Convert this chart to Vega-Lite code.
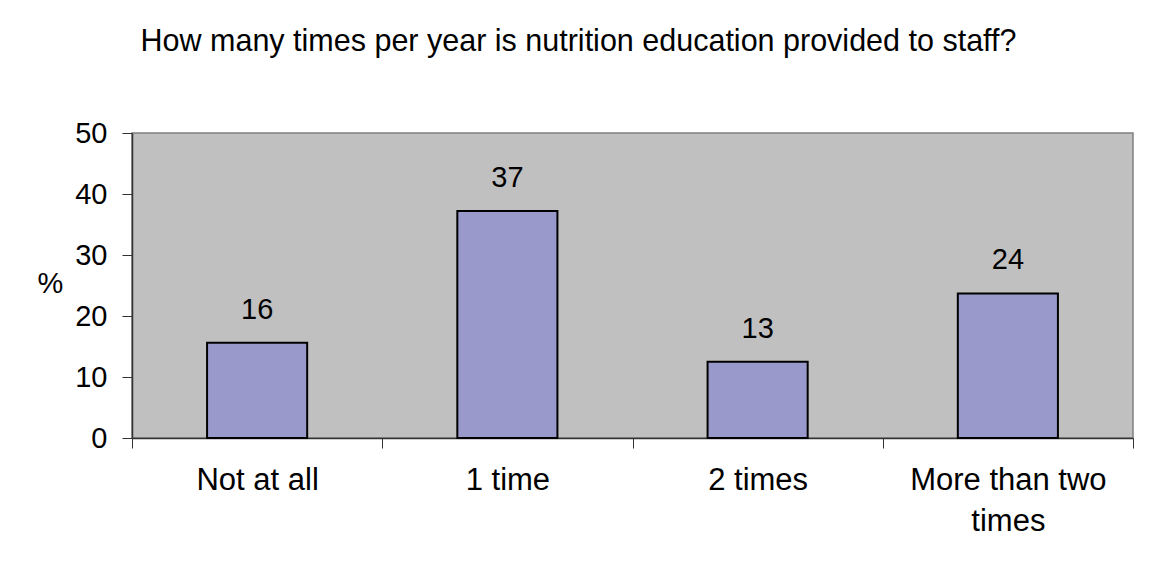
{
  "$schema": "https://vega.github.io/schema/vega-lite/v6.json",
  "autosize": {"type": "none"},
  "width": 1001,
  "height": 305,
  "padding": {"left": 132, "top": 133, "right": 17, "bottom": 135},
  "background": "white",
  "title": {
    "text": "How many times per year is nutrition education provided to staff?",
    "anchor": "middle",
    "frame": "group",
    "dx": -54,
    "offset": 38,
    "baseline": "alphabetic",
    "font": "Liberation Sans",
    "fontSize": 30.5,
    "fontWeight": "normal",
    "color": "black"
  },
  "config": {
    "view": {"fill": "#C0C0C0", "stroke": "#808080", "strokeWidth": 1.5},
    "axis": {
      "labelFont": "Liberation Sans",
      "titleFont": "Liberation Sans",
      "labelColor": "black",
      "titleColor": "black",
      "grid": false
    }
  },
  "data": {
    "values": [
      {"category": "Not at all", "percent": 15.6, "label": "16"},
      {"category": "1 time", "percent": 37.2, "label": "37"},
      {"category": "2 times", "percent": 12.5, "label": "13"},
      {"category": "More than two times", "percent": 23.7, "label": "24"}
    ]
  },
  "encoding": {
    "x": {
      "field": "category",
      "type": "nominal",
      "sort": null,
      "scale": {"paddingInner": 0, "paddingOuter": 0},
      "axis": {
        "title": null,
        "labelAngle": 0,
        "labelFontSize": 31,
        "labelPadding": 17,
        "labelLineHeight": 41,
        "labelLimit": 500,
        "labelExpr": "datum.label == 'More than two times' ? ['More than two', 'times'] : datum.label",
        "tickBand": "extent",
        "tickSize": 10,
        "tickColor": "#333333",
        "domainColor": "#333333",
        "domainWidth": 1.5
      }
    },
    "y": {
      "field": "percent",
      "type": "quantitative",
      "scale": {"domain": [0, 50]},
      "axis": {
        "values": [0, 10, 20, 30, 40, 50],
        "title": "%",
        "titleAngle": 0,
        "titleFontSize": 29,
        "titleFontWeight": "normal",
        "titleX": -82,
        "titleY": 150,
        "titleAlign": "center",
        "titleBaseline": "middle",
        "labelFontSize": 29,
        "labelPadding": 15,
        "tickSize": 10,
        "tickColor": "#333333",
        "domainColor": "#333333",
        "domainWidth": 1.5
      }
    }
  },
  "layer": [
    {
      "mark": {"type": "bar", "width": {"band": 0.4}, "fill": "#9999CC", "stroke": "black", "strokeWidth": 2}
    },
    {
      "mark": {"type": "text", "baseline": "alphabetic", "dy": -24, "font": "Liberation Sans", "fontSize": 29, "color": "black"},
      "encoding": {"text": {"field": "label"}}
    }
  ]
}
